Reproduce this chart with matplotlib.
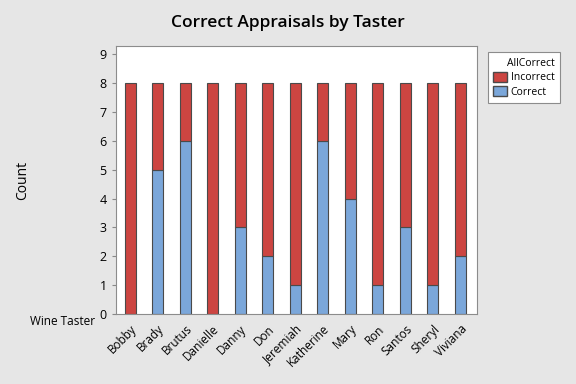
import numpy as np
import matplotlib
matplotlib.use('Agg')
import matplotlib.pyplot as plt
from matplotlib.patches import Patch

# data
tasters = ['Bobby', 'Brady', 'Brutus', 'Danielle', 'Danny', 'Don', 'Jeremiah',
           'Katherine', 'Mary', 'Ron', 'Santos', 'Sheryl', 'Viviana']
correct = [0, 5, 6, 0, 3, 2, 1, 6, 4, 1, 3, 1, 2]
incorrect = [8, 3, 2, 8, 5, 6, 7, 2, 4, 7, 5, 7, 6]

red = '#cc4541'
blue = '#7ba7da'
bg = '#e6e6e6'

plt.rcParams['font.family'] = ['Open Sans', 'DejaVu Sans']

fig = plt.figure(figsize=(5.76, 3.84), dpi=100, facecolor=bg)
ax = fig.add_axes([0.201, 0.182, 0.627, 0.698])

x = np.arange(len(tasters))
ax.bar(x, correct, width=0.4, color=blue, edgecolor='#4a4a4a', linewidth=0.8)
ax.bar(x, incorrect, width=0.4, bottom=correct, color=red, edgecolor='#4a4a4a', linewidth=0.8)

ax.set_xlim(-0.52, 12.6)
ax.set_ylim(0, 9.28)
ax.set_yticks(range(10))
ax.set_xticks(x)
ax.set_xticklabels(tasters, rotation=45, ha='right', rotation_mode='anchor', fontsize=8.5)
ax.tick_params(axis='y', labelsize=9, length=3, color='#888888')
ax.tick_params(axis='x', length=0, pad=6)
for s in ax.spines.values():
    s.set_color('#8c8c8c')
    s.set_linewidth(0.8)

fig.text(0.5, 0.94, 'Correct Appraisals by Taster', ha='center', va='center',
         fontsize=12.5, fontweight='semibold')
fig.text(0.04, 0.53, 'Count', rotation=90, ha='center', va='center', fontsize=10)
fig.text(0.052, 0.162, 'Wine Taster', ha='left', va='center', fontsize=8.5)

handles = [Patch(facecolor=red, edgecolor='#4a4a4a', label='Incorrect'),
           Patch(facecolor=blue, edgecolor='#4a4a4a', label='Correct')]
leg = fig.legend(handles=handles, title='AllCorrect', loc='upper left',
                 bbox_to_anchor=(0.838, 0.877), fontsize=7.5, title_fontsize=7.5,
                 fancybox=False, edgecolor='#8c8c8c', framealpha=1,
                 handlelength=1.3, handleheight=1.1, handletextpad=0.4,
                 borderpad=0.5, labelspacing=0.3, alignment='right')
leg.get_frame().set_linewidth(0.8)

fig.savefig('out.png', dpi=100, facecolor=bg)
